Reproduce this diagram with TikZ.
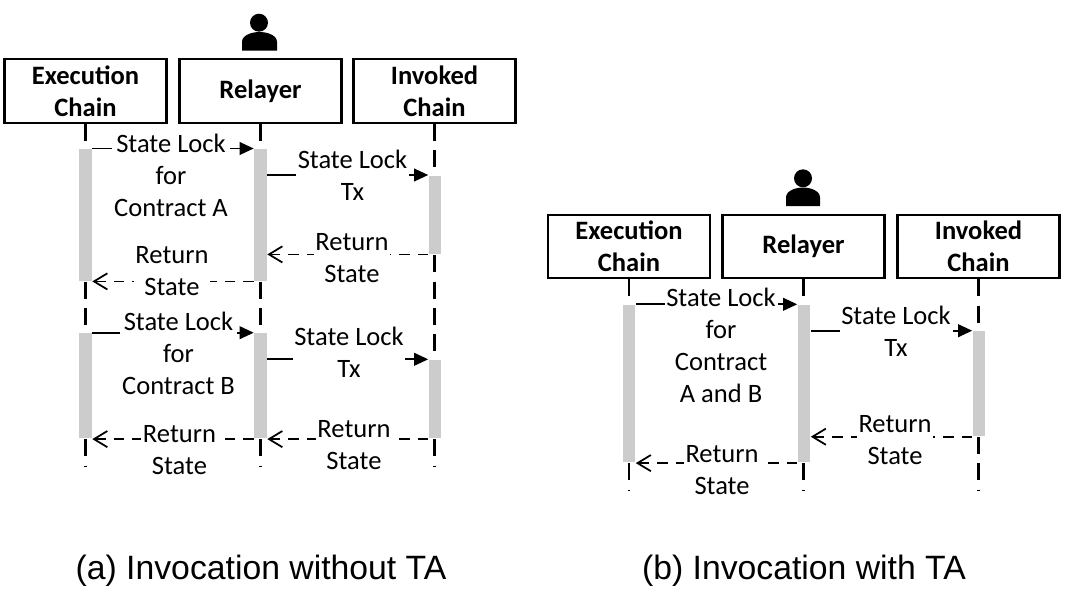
\documentclass[tikz,border=0pt]{standalone}
\usepackage{fontspec}
\setmainfont{Carlito}
\newfontfamily\capfont{Liberation Sans}
\usetikzlibrary{arrows.meta, calc, positioning}
\tikzset{
  chainbox/.style={draw, line width=.6pt, minimum width=1.62cm, minimum height=.635cm, inner sep=0pt, align=center, font=\fontsize{7.55}{9.1}\selectfont\bfseries},
  lifeline/.style={line width=.6pt, dash pattern=on .17cm off .093cm},
  actbar/.style={fill=black!20, minimum width=.122cm, inner sep=0pt, anchor=north},
  msgtext/.style={fill=white, inner sep=.5pt, align=center, font=\fontsize{7.55}{9.1}\selectfont},
  captext/.style={font=\capfont\fontsize{9.6}{11}\selectfont},
  reqarrow/.style={line width=.5pt, -{Triangle[length=4pt,width=3.6pt]}},
  retarrow/.style={line width=.5pt, dash pattern=on .105cm off .08cm, -{Straight Barb[length=3.8pt,width=4.6pt]}}
}
\begin{document}
\begin{tikzpicture}[x=1cm,y=1cm]
\useasboundingbox (0,0) rectangle (10.66,-6.09);

\fill (2.59,-.227) circle (.09);
\fill (2.42,-.507) -- (2.42,-.42) .. controls (2.42,-.35) and (2.52,-.32) .. (2.595,-.32) .. controls (2.67,-.32) and (2.77,-.35) .. (2.77,-.42) -- (2.77,-.507) -- cycle;
\node[chainbox] (exa) at (.855,-.91) {Execution\\Chain};
\node[chainbox] (rea) at (2.605,-.91) {Relayer};
\node[chainbox] (ina) at (4.345,-.91) {Invoked\\Chain};
\coordinate (enda) at (0,-4.67);
\draw[lifeline] (exa.south) -- (exa.south |- enda);
\draw[lifeline] (rea.south) -- (rea.south |- enda);
\draw[lifeline] (ina.south) -- (ina.south |- enda);

\node[actbar, minimum height=1.315cm] (ea1) at (.855,-1.485) {};
\node[actbar, minimum height=1.315cm] (ra1) at (2.605,-1.485) {};
\node[actbar, minimum height=.78cm] (ia1) at (4.35,-1.75) {};
\node[actbar, minimum height=1.05cm] (ea2) at (.855,-3.327) {};
\node[actbar, minimum height=1.05cm] (ra2) at (2.605,-3.327) {};
\node[actbar, minimum height=.784cm] (ia2) at (4.35,-3.593) {};

\draw[reqarrow] (ea1.north east) -- (ra1.north west);
\draw[reqarrow] (ra1.east |- ia1.north) -- (ia1.north west);
\draw[retarrow] (ia1.south west) -- (ra1.east |- ia1.south);
\draw[retarrow] (ra1.south west) -- (ea1.south east);
\draw[reqarrow] (ea2.north east) -- (ra2.north west);
\draw[reqarrow] (ra2.east |- ia2.north) -- (ia2.north west);
\draw[retarrow] (ia2.south west) -- (ra2.south east);
\draw[retarrow] (ra2.south west) -- (ea2.south east);

\node[msgtext] (la1) at (1.71,-1.757) {State Lock\\for\\Contract A};
\node[msgtext] (ta1) at (3.525,-1.755) {State Lock\\Tx};
\node[msgtext] (ba1) at (3.52,-2.585) {Return\\State};
\node[msgtext] (ca1) at (1.72,-2.71) {Return\\State};
\node[msgtext] (la2) at (1.785,-3.537) {State Lock\\for\\Contract B};
\node[msgtext] (ta2) at (3.49,-3.52) {State Lock\\Tx};
\node[msgtext] (ba2) at (3.54,-4.45) {Return\\State};
\node[msgtext] (ca2) at (1.795,-4.50) {Return\\State};
\node[captext] (capa) at (2.61,-5.71) {(a) Invocation without TA};

\fill (8.03,-1.783) circle (.09);
\fill (7.86,-2.06) -- (7.86,-1.975) .. controls (7.86,-1.905) and (7.96,-1.875) .. (8.03,-1.875) .. controls (8.10,-1.875) and (8.20,-1.905) .. (8.20,-1.975) -- (8.20,-2.06) -- cycle;
\node[chainbox] (exb) at (6.29,-2.465) {Execution\\Chain};
\node[chainbox] (reb) at (8.035,-2.465) {Relayer};
\node[chainbox] (inb) at (9.785,-2.465) {Invoked\\Chain};
\coordinate (endb) at (0,-4.91);
\draw[lifeline] (exb.south) -- (exb.south |- endb);
\draw[lifeline] (reb.south) -- (reb.south |- endb);
\draw[lifeline] (inb.south) -- (inb.south |- endb);

\node[actbar, minimum height=1.574cm] (eb1) at (6.29,-3.043) {};
\node[actbar, minimum height=1.574cm] (rb1) at (8.04,-3.043) {};
\node[actbar, minimum height=1.046cm] (ib1) at (9.79,-3.307) {};

\draw[reqarrow] (eb1.north east) -- (rb1.north west);
\draw[reqarrow] (rb1.east |- ib1.north) -- (ib1.north west);
\draw[retarrow] (ib1.south west) -- (rb1.east |- ib1.south);
\draw[retarrow] (rb1.south west) -- (eb1.south east);

\node[msgtext] (lb1) at (7.21,-3.455) {State Lock\\for\\Contract\\A and B};
\node[msgtext] (tb1) at (8.96,-3.31) {State Lock\\Tx};
\node[msgtext] (bb1) at (8.95,-4.40) {Return\\State};
\node[msgtext] (cb1) at (7.22,-4.70) {Return\\State};
\node[captext] (capb) at (8.04,-5.71) {(b) Invocation with TA};
\end{tikzpicture}
\end{document}
